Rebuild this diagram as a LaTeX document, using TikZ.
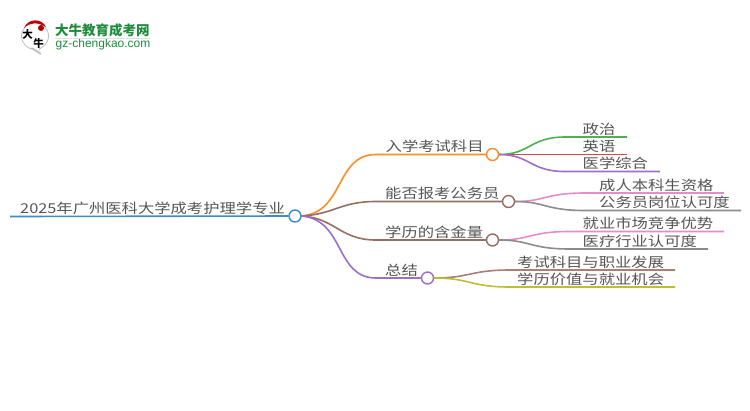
\documentclass[tikz,border=0pt]{standalone}
\usepackage{fontspec}
\usepackage{graphicx}
\setmainfont{Noto Sans CJK SC}
\newfontfamily\latinlogo{Liberation Sans}
\newcommand{\widetxt}[1]{\scalebox{1.2}[1]{#1}}
\definecolor{cblue}{HTML}{3C8CC8}
\definecolor{corange}{HTML}{FF8C28}
\definecolor{cbrown}{HTML}{966E64}
\definecolor{cpurple}{HTML}{9B70C8}
\definecolor{cgreen}{HTML}{50B050}
\definecolor{cred}{HTML}{DC4650}
\definecolor{cpink}{HTML}{E68CC8}
\definecolor{cgray}{HTML}{8C8C8C}
\definecolor{colive}{HTML}{BEBE32}
\definecolor{ctext}{HTML}{555555}
\definecolor{logogreen}{HTML}{1E8C3C}
\tikzset{
  x=1bp,y=-1bp,
  lbl/.style={font=\fontsize{13.6bp}{14bp}\selectfont,text=ctext,inner sep=0pt,anchor=base west,yshift=-0.8bp},
  dotc/.style={circle,draw=#1,fill=white,line width=1.4bp,minimum size=12bp,inner sep=0pt},
  conn/.style={draw=#1,line width=1.6bp},
}
\begin{document}
\begin{tikzpicture}
\useasboundingbox (0,0) rectangle (750,410);
% logo
\fill[white,draw=black!25,line width=.8bp] (35,36) circle (13.5bp);
\fill[black!25] (30,48) -- (41,55) -- (39,46) -- cycle;
\fill[white] (32,47) -- (40,52) -- (38,45) -- cycle;
\fill[red!75!black] (24,28) .. controls (28,18) and (42,18) .. (46,27) .. controls (38,22) and (30,22) .. (24,28) -- cycle;
\fill[red!70!black] (41,28) circle (3bp);
\node[inner sep=0pt,font=\fontsize{10.5bp}{11bp}\selectfont\bfseries] (logoa) at (27.5,34) {大};
\node[inner sep=0pt,font=\fontsize{10.5bp}{11bp}\selectfont\bfseries] (logob) at (38.5,44) {牛};
\node[inner sep=0pt,font=\fontsize{13.5bp}{14bp}\selectfont\bfseries,text=logogreen,anchor=west] (logot) at (55,30) {大牛教育成考网};
\node[inner sep=0pt,font=\fontsize{12bp}{12bp}\selectfont\latinlogo,text=logogreen,anchor=west] (logou) at (55.5,44.5) {gz-chengkao.com};
\fill[black!12] (55,38) rectangle (150,38.8);
% hubs
\node[dotc=cblue] (root) at (295,216) {};
\node[dotc=corange] (n1) at (492.5,154.5) {};
\node[dotc=cbrown] (n2) at (508.5,201.5) {};
\node[dotc=cbrown] (n3) at (492.5,240) {};
\node[dotc=cpurple] (n4) at (427.5,278) {};
% free ends
\coordinate (r0) at (10,216.5);
\coordinate (e1) at (627,137);
\coordinate (e2) at (627,154.5);
\coordinate (e3) at (660,171.5);
\coordinate (e4) at (724,193);
\coordinate (e5) at (741,210.5);
\coordinate (e6) at (724,231.5);
\coordinate (e7) at (708,249);
\coordinate (e8) at (675,270);
\coordinate (e9) at (675,287);
% connectors
\draw[conn=cblue] (r0) -- (root.west);
\draw[conn=corange] (root.east) .. controls (345,212) and (335,154.5) .. (376,154.5) -- (n1.west);
\draw[conn=cbrown] (root.east) .. controls (335,214) and (340,201.5) .. (376,201.5) -- (n2.west);
\draw[conn=cbrown] (root.east) .. controls (335,218) and (340,240) .. (376,240) -- (n3.west);
\draw[conn=cpurple] (root.east) .. controls (345,220) and (335,278) .. (376,278) -- (n4.west);
\draw[conn=cgreen] (n1.east) .. controls (530,154.5) and (530,137) .. (565,137) -- (e1);
\draw[conn=cred] (n1.east) -- (e2);
\draw[conn=cpurple] (n1.east) .. controls (530,154.5) and (530,171.5) .. (565,171.5) -- (e3);
\draw[conn=cpink] (n2.east) .. controls (545,201.5) and (545,193) .. (585,193) -- (e4);
\draw[conn=cgray] (n2.east) .. controls (545,201.5) and (545,210.5) .. (585,210.5) -- (e5);
\draw[conn=cpink] (n3.east) .. controls (530,240) and (530,231.5) .. (570,231.5) -- (e6);
\draw[conn=cgray] (n3.east) .. controls (530,240) and (530,249) .. (570,249) -- (e7);
\draw[conn=cbrown!80!pink] (n4.east) .. controls (470,278) and (470,270) .. (510,270) -- (e8);
\draw[conn=colive] (n4.east) .. controls (470,278) and (470,287) .. (510,287) -- (e9);
% labels
\node[lbl] (t0) at (20,212.5) {\widetxt{2025年广州医科大学成考护理学专业}};
\node[lbl] (t1) at (385.5,151) {\widetxt{入学考试科目}};
\node[lbl] (t2) at (385,198) {\widetxt{能否报考公务员}};
\node[lbl] (t3) at (385,236.5) {\widetxt{学历的含金量}};
\node[lbl] (t4) at (385,274.5) {\widetxt{总结}};
\node[lbl] (t5) at (582.5,133.5) {\widetxt{政治}};
\node[lbl] (t6) at (582.5,151) {\widetxt{英语}};
\node[lbl] (t7) at (582.5,168) {\widetxt{医学综合}};
\node[lbl] (t8) at (599,189.5) {\widetxt{成人本科生资格}};
\node[lbl] (t9) at (599,207) {\widetxt{公务员岗位认可度}};
\node[lbl] (t10) at (582.5,228) {\widetxt{就业市场竞争优势}};
\node[lbl] (t11) at (582.5,245.5) {\widetxt{医疗行业认可度}};
\node[lbl] (t12) at (517,266.5) {\widetxt{考试科目与职业发展}};
\node[lbl] (t13) at (517,283.5) {\widetxt{学历价值与就业机会}};
\end{tikzpicture}
\end{document}
